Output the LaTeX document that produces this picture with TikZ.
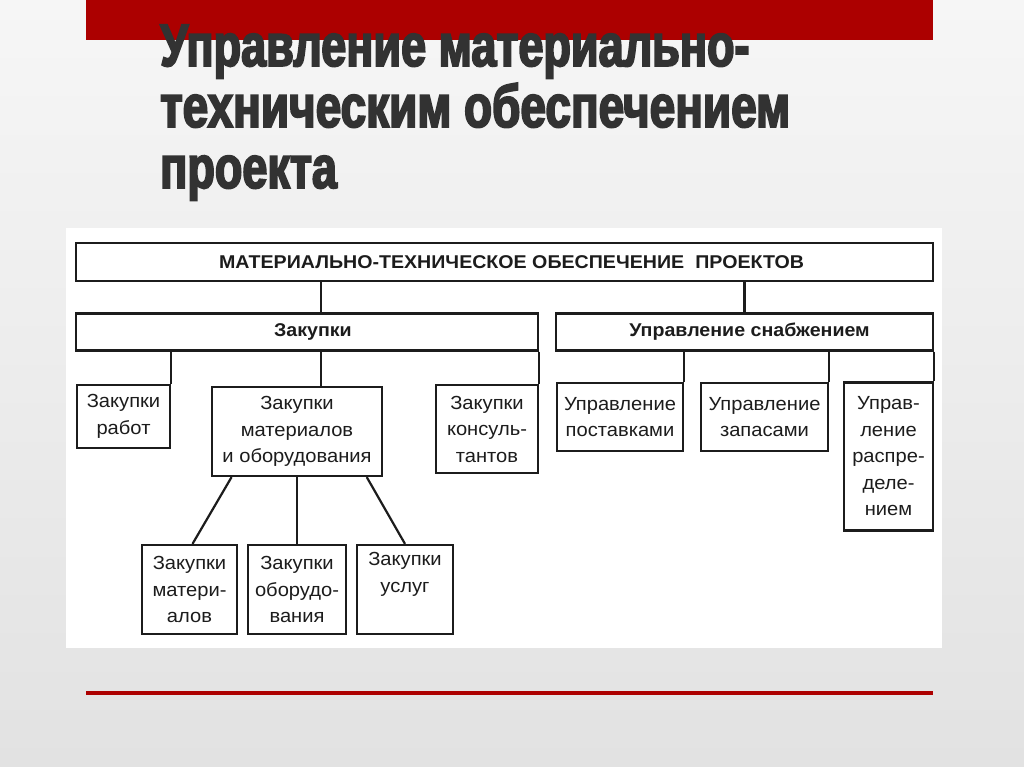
\documentclass[tikz,border=0pt]{standalone}
\usepackage{fontspec}
\setmainfont{Liberation Sans}
\newfontfamily\titlefont[FakeStretch=0.75,FakeBold=3]{Liberation Sans Bold}
\newfontfamily\bodyfont[FakeStretch=1.06]{Liberation Sans}
\usetikzlibrary{calc}
\definecolor{redbar}{RGB}{172,0,0}
\definecolor{titlegray}{RGB}{50,50,50}
\definecolor{ink}{RGB}{28,28,28}
\definecolor{bgtop}{RGB}{246,246,246}
\definecolor{bgbot}{RGB}{226,226,226}
\begin{document}
\begin{tikzpicture}[x=1pt,y=-1pt,
  box/.style={draw=ink, line width=2.2pt, inner sep=0pt, align=center, text=ink,
    font=\bodyfont\fontsize{19}{26.5}\selectfont},
  hdr/.style={box, font=\bodyfont\bfseries\fontsize{18.5}{21}\selectfont},
  conn/.style={draw=ink, line width=2.2pt},
  ttl/.style={anchor=base west, inner sep=0pt, text=titlegray,
    font=\titlefont\fontsize{60}{60}\selectfont}]
\useasboundingbox (0,0) rectangle (1024,767);
% background
\shade[top color=bgtop, bottom color=bgbot] (0,0) rectangle (1024,767);
\fill[redbar] (86,0) rectangle (933,40);
\fill[redbar] (86,691) rectangle (933,695);
% title
\node[ttl] (t1) at (160,66) {Управление материально-};
\node[ttl] (t2) at (160,127) {\addfontfeature{FakeStretch=0.765}техническим обеспечением};
\node[ttl] (t3) at (160,188) {проекта};
% white panel
\fill[white] (66,228) rectangle (942,648);
% boxes
\node[hdr, minimum width=857pt, minimum height=38pt] (top) at (504.5,262)
  {\hspace*{14pt}МАТЕРИАЛЬНО-ТЕХНИЧЕСКОЕ ОБЕСПЕЧЕНИЕ\hspace{0.6em}ПРОЕКТОВ};
\node[hdr, minimum width=462pt, minimum height=37pt] (zak) at (307,332) {\hspace*{12pt}Закупки};
\node[hdr, minimum width=377pt, minimum height=37pt] (upr) at (744.5,332) {\hspace*{10pt}Управление снабжением};
\node[box, minimum width=93pt, minimum height=63pt] (zr) at (123.5,416.5) {Закупки\\работ};
\node[box, minimum width=170pt, minimum height=89pt] (zmo) at (297,431.5) {Закупки\\материалов\\и оборудования};
\node[box, minimum width=102pt, minimum height=88pt] (zk) at (487,429) {Закупки\\консуль-\\тантов};
\node[box, minimum width=126pt, minimum height=68pt] (up) at (620,417) {Управление\\поставками};
\node[box, minimum width=127pt, minimum height=68pt] (uz) at (764.5,417) {Управление\\запасами};
\node[box, minimum width=89pt, minimum height=148pt] (ur) at (888.5,456.5) {Управ-\\ление\\распре-\\деле-\\нием};
\node[box, minimum width=95pt, minimum height=89pt] (zm) at (189.5,589.5) {Закупки\\матери-\\алов};
\node[box, minimum width=98pt, minimum height=89pt] (zo) at (297,589.5) {Закупки\\оборудо-\\вания};
\node[box, minimum width=96pt, minimum height=89pt] (zu) at (405,589.5) {Закупки\\услуг\\\strut};
% connectors
\coordinate (xa) at (321,300);
\draw[conn] (top.south -| xa) -- (zak.north -| xa);
\draw[conn] (top.south -| upr.north) -- (upr.north);
\draw[conn] (zak.south -| zr.north east) -- (zr.north east);
\draw[conn] (zak.south -| xa) -- (zmo.north -| xa);
\draw[conn] (zak.south east) -- (zk.north east);
\draw[conn] (upr.south -| up.north east) -- (up.north east);
\draw[conn] (upr.south -| uz.north east) -- (uz.north east);
\draw[conn] (upr.south east) -- (ur.north east);
\draw[conn] ($(zmo.south west)!0.12!(zmo.south east)$) -- ($(zm.north)+(3,0)$);
\draw[conn] (zmo.south -| zo.north) -- (zo.north);
\draw[conn] ($(zmo.south west)!0.905!(zmo.south east)$) -- (zu.north);
\end{tikzpicture}
\end{document}
